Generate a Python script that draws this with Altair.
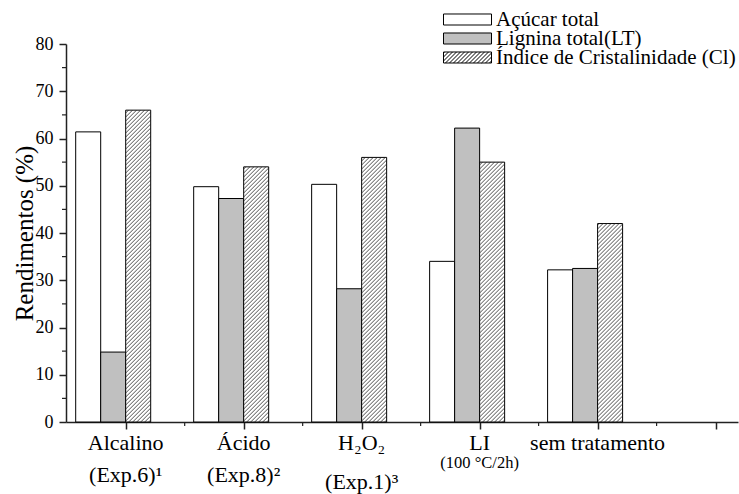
import altair as alt
import pandas as pd

# ---------------- data ----------------
categories = ["Alcalino", "Ácido", "H2O2", "LI", "sem tratamento"]
series = ["Açúcar total", "Lignina total(LT)", "Índice de Cristalinidade (Cl)"]
acucar = [61.4, 49.8, 50.3, 34.0, 32.2]
lignina = [14.8, 47.3, 28.2, 62.2, 32.5]
cristal = [66.0, 54.0, 56.0, 55.0, 42.0]
label_line1 = ["Alcalino", "Ácido", "H₂O₂", "LI", "sem tratamento"]
label_line2 = ["(Exp.6)¹", "(Exp.8)²", "(Exp.1)³", "(100 °C/2h)", ""]
x_major = [1, 2, 3, 4, 5, 6]
x_minor = [1.5, 2.5, 3.5, 4.5, 5.5]
y_major = [0, 10, 20, 30, 40, 50, 60, 70, 80]
y_minor = [5, 15, 25, 35, 45, 55, 65, 75]

# ---------------- layout ----------------
W, H = 672, 378
XDOM = [0.494, 6.19]
YDOM = [0, 80]
PX = W / (XDOM[1] - XDOM[0])
PY = H / (YDOM[1] - YDOM[0])
BAR = 25 / PX
FONT = "Liberation Serif"

values = [acucar, lignina, cristal]
rows = []
for i, cat in enumerate(categories):
    pos = i + 1
    for j, s in enumerate(series):
        x0 = pos + (j - 2) * BAR
        rows.append(dict(category=cat, series=s, x0=x0, x1=x0 + BAR, value=values[j][i]))
df = pd.DataFrame(rows)


def hatch_segments(x0, x1, top, step=4.0):
    wb = (x1 - x0) * PX
    hb = top * PY
    out = []
    c = -wb + step / 2
    while c < hb:
        u0 = max(0.0, -c)
        u1 = min(wb, hb - c)
        if u1 > u0:
            out.append(dict(hx=x0 + u0 / PX, hx2=x0 + u1 / PX, hy=(u0 + c) / PY, hy2=(u1 + c) / PY))
        c += step
    return out


hrows = []
for r in rows:
    if r["series"] == series[2]:
        hrows += hatch_segments(r["x0"], r["x1"], r["value"])
hdf = pd.DataFrame(hrows)

# legend symbol paths (custom SVG shapes, unit box -1..1)
LW, LH = 48, 11
s = LW / 2
rect_path = f"M-1,{-LH/2/s:.4f}H1V{LH/2/s:.4f}H-1Z"
hp = [rect_path]
c = -LW + 2.0
while c < LH:
    u0 = max(0.0, -c)
    u1 = min(LW, LH - c)
    if u1 > u0:
        hp.append(f"M{-1 + u0/s:.4f},{(LH/2 - (u0 + c))/s:.4f}L{-1 + u1/s:.4f},{(LH/2 - (u1 + c))/s:.4f}")
    c += 4.0
hatch_path = "".join(hp)

xscale = alt.Scale(domain=XDOM, nice=False, zero=False)
yscale = alt.Scale(domain=YDOM, nice=False)
x_axis = alt.Axis(values=x_major, labels=False, title=None, grid=False, tickSize=7,
                  tickColor="#222", tickWidth=1.5, domainColor="#222", domainWidth=1.5)
y_axis = alt.Axis(values=y_major, title="Rendimentos (%)", grid=False, tickSize=7,
                  tickColor="#222", tickWidth=1.5, domainColor="#222", domainWidth=1.5,
                  labelFont=FONT, labelFontSize=18, labelColor="black", labelPadding=6,
                  titleFont=FONT, titleFontSize=25, titleFontWeight="normal", titleColor="black",
                  titleX=-34, titleY=H / 2, titleAlign="center", titleBaseline="alphabetic")

fill_scale = alt.Scale(domain=series, range=["white", "#c0c0c0", "white"])

shape_expr = f"datum.value === '{series[2]}' ? '{hatch_path}' : '{rect_path}'"
leg = alt.Legend(orient="none", legendX=377, legendY=-33, title=None, labelFont=FONT,
                 labelFontSize=21, labelColor="black", symbolSize=LW * LW,
                 symbolType={"expr": shape_expr}, clipHeight=17,
                 symbolStrokeColor="black", symbolStrokeWidth=1, rowPadding=-6,
                 labelOffset=4, padding=0, labelLimit=400)

bars = alt.Chart(df).mark_rect(stroke="black", strokeWidth=1).encode(
    x=alt.X("x0:Q", scale=xscale, axis=x_axis),
    x2="x1:Q",
    y=alt.Y("value:Q", scale=yscale, axis=y_axis),
    y2=alt.datum(0),
    fill=alt.Fill("series:N", scale=fill_scale, legend=leg),
)

hatch = alt.Chart(hdf).mark_rule(color="#222", strokeWidth=0.8).encode(
    x=alt.X("hx:Q", scale=xscale, axis=x_axis),
    x2="hx2:Q",
    y=alt.Y("hy:Q", scale=yscale, axis=y_axis),
    y2="hy2:Q",
)

minor_x = alt.Chart(pd.DataFrame({"m": x_minor})).mark_rule(color="#222", strokeWidth=1.2).encode(
    x=alt.X("m:Q", scale=xscale, axis=x_axis),
    y=alt.value(H),
    y2=alt.value(H + 4),
)
minor_y = alt.Chart(pd.DataFrame({"m": y_minor})).mark_rule(color="#222", strokeWidth=1.2).encode(
    y=alt.Y("m:Q", scale=yscale, axis=y_axis),
    x=alt.value(0),
    x2=alt.value(-4),
)

ldf = pd.DataFrame({"pos": x_major[:5], "category": categories, "l1": label_line1, "l2": label_line2})


def text_layer(field, ypix, size, cats):
    return alt.Chart(ldf).transform_filter(
        alt.FieldOneOfPredicate(field="category", oneOf=cats)
    ).mark_text(font=FONT, fontSize=size, color="black", align="center", baseline="alphabetic").encode(
        x=alt.X("pos:Q", scale=xscale, axis=x_axis),
        y=alt.value(ypix),
        text=f"{field}:N",
    )


t1 = text_layer("l1", 406, 22, categories)
t2 = text_layer("l2", 438, 22, ["Alcalino", "Ácido"])
t3 = text_layer("l2", 445, 22, ["H2O2"])
t4 = text_layer("l2", 424, 16.5, ["LI"])

chart = alt.layer(bars, hatch, minor_x, minor_y, t1, t2, t3, t4).properties(
    width=W, height=H,
    autosize=alt.AutoSizeParams(type="none"),
    padding={"left": 66, "top": 44, "right": 1, "bottom": 72},
    background="white",
).configure_view(stroke=None).configure_axis(
    labelFont=FONT, titleFont=FONT
).configure_legend(labelFont=FONT).configure_text(font=FONT)

chart.save("out.html", embed_options={"renderer": "svg", "actions": False})
